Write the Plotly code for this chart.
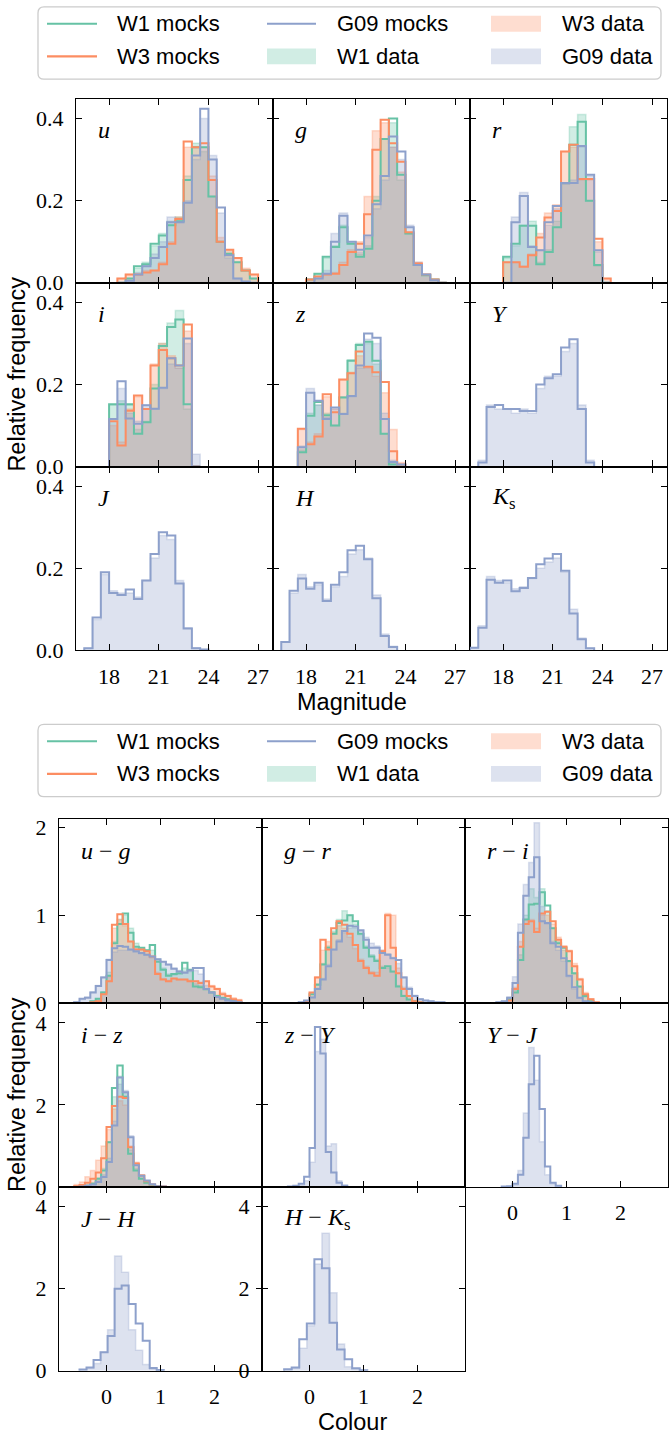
import plotly.graph_objects as go

FIG_W, FIG_H = 670, 1448

# ------------------------------------------------------------------
# Magnitude distributions (relative frequency, bin width 0.5 mag)
# ------------------------------------------------------------------
MAG_BIN = 0.5
MAG_TICKS = [18, 21, 24, 27]

u_start = 18.5
u_w1_mock = [0, 0.01, 0.04, 0.045, 0.095, 0.115, 0.14, 0.15, 0.25, 0.33, 0.33, 0.21, 0.10, 0.07, 0.05, 0.03, 0.01]
u_w3_mock = [0.01, 0.02, 0.02, 0.025, 0.03, 0.045, 0.095, 0.155, 0.344, 0.33, 0.34, 0.25, 0.10, 0.08, 0.06, 0.03, 0.02]
u_g09_mock = [0, 0.005, 0.02, 0.04, 0.06, 0.087, 0.147, 0.147, 0.195, 0.31, 0.424, 0.30, 0.183, 0.067, 0.01, 0.003, 0]
u_w1_data = [0, 0.01, 0.035, 0.05, 0.09, 0.12, 0.15, 0.16, 0.26, 0.34, 0.32, 0.21, 0.10, 0.075, 0.05, 0.03, 0.01]
u_w3_data = [0.01, 0.02, 0.02, 0.03, 0.03, 0.05, 0.10, 0.16, 0.33, 0.33, 0.33, 0.26, 0.11, 0.08, 0.06, 0.035, 0.02]
u_g09_data = [0, 0.005, 0.025, 0.045, 0.07, 0.10, 0.16, 0.15, 0.20, 0.30, 0.40, 0.31, 0.17, 0.06, 0.01, 0.003, 0]

g_start = 18.0
g_w1_mock = [0.008, 0.022, 0.063, 0.087, 0.135, 0.095, 0.063, 0.083, 0.20, 0.35, 0.40, 0.263, 0.12, 0.043, 0.018, 0.008, 0]
g_w3_mock = [0.008, 0.015, 0.02, 0.022, 0.043, 0.075, 0.095, 0.167, 0.324, 0.397, 0.34, 0.295, 0.123, 0.047, 0.02, 0.008, 0]
g_g09_mock = [0, 0.01, 0.022, 0.10, 0.163, 0.10, 0.08, 0.115, 0.191, 0.26, 0.356, 0.32, 0.135, 0.043, 0.02, 0.006, 0]
g_w1_data = [0.008, 0.02, 0.06, 0.09, 0.14, 0.10, 0.07, 0.09, 0.21, 0.35, 0.39, 0.25, 0.12, 0.045, 0.02, 0.008, 0]
g_w3_data = [0.008, 0.015, 0.02, 0.025, 0.05, 0.08, 0.10, 0.21, 0.37, 0.39, 0.33, 0.27, 0.12, 0.05, 0.02, 0.008, 0]
g_g09_data = [0, 0.01, 0.03, 0.12, 0.17, 0.095, 0.075, 0.11, 0.18, 0.25, 0.33, 0.30, 0.14, 0.05, 0.02, 0.006, 0]

r_start = 18.0
r_w1_mock = [0.063, 0.095, 0.139, 0.139, 0.045, 0.075, 0.135, 0.243, 0.336, 0.392, 0.20, 0.043, 0]
r_w3_mock = [0.05, 0.05, 0.039, 0.067, 0.11, 0.159, 0.175, 0.32, 0.336, 0.253, 0.253, 0.107, 0.01]
r_g09_mock = [0, 0.147, 0.211, 0.087, 0.079, 0.147, 0.187, 0.243, 0.243, 0.333, 0.263, 0.079, 0]
r_w1_data = [0.06, 0.09, 0.14, 0.15, 0.05, 0.08, 0.15, 0.24, 0.38, 0.41, 0.20, 0.04, 0]
r_w3_data = [0.05, 0.05, 0.04, 0.07, 0.12, 0.17, 0.19, 0.32, 0.33, 0.25, 0.25, 0.10, 0.01]
r_g09_data = [0, 0.16, 0.22, 0.09, 0.08, 0.14, 0.18, 0.24, 0.25, 0.33, 0.26, 0.075, 0]

i_start = 18.0
i_w1_mock = [0.152, 0.152, 0.152, 0.08, 0.108, 0.19, 0.294, 0.34, 0.358, 0.152, 0]
i_w3_mock = [0.11, 0.051, 0.136, 0.173, 0.14, 0.246, 0.284, 0.264, 0.246, 0.346, 0]
i_g09_mock = [0.116, 0.208, 0.117, 0.104, 0.149, 0.141, 0.192, 0.264, 0.246, 0.312, 0]
i_w1_data = [0.15, 0.16, 0.15, 0.09, 0.11, 0.20, 0.30, 0.35, 0.38, 0.14, 0]
i_w3_data = [0.10, 0.06, 0.14, 0.17, 0.14, 0.25, 0.30, 0.27, 0.24, 0.33, 0]
i_g09_data = [0.11, 0.19, 0.13, 0.11, 0.15, 0.14, 0.19, 0.25, 0.24, 0.30, 0.03]

z_start = 17.5
z_w1_mock = [0.035, 0.124, 0.157, 0.125, 0.10, 0.168, 0.258, 0.296, 0.304, 0.258, 0.08, 0.005, 0]
z_w3_mock = [0.092, 0.054, 0.073, 0.176, 0.132, 0.212, 0.227, 0.28, 0.243, 0.23, 0.206, 0.037, 0.005]
z_g09_mock = [0.047, 0.18, 0.16, 0.116, 0.144, 0.128, 0.172, 0.246, 0.324, 0.314, 0.116, 0.011, 0.005]
z_w1_data = [0.04, 0.13, 0.15, 0.13, 0.10, 0.17, 0.26, 0.30, 0.30, 0.25, 0.08, 0.01, 0]
z_w3_data = [0.09, 0.06, 0.08, 0.17, 0.14, 0.21, 0.23, 0.27, 0.24, 0.22, 0.18, 0.09, 0.01]
z_g09_data = [0.05, 0.19, 0.15, 0.12, 0.14, 0.13, 0.17, 0.24, 0.31, 0.30, 0.13, 0.015, 0.005]

Y_start = 16.5
Y_g09_mock = [0.01, 0.145, 0.15, 0.14, 0.14, 0.135, 0.135, 0.20, 0.215, 0.225, 0.29, 0.31, 0.14, 0.01]
Y_g09_data = [0.015, 0.15, 0.14, 0.14, 0.13, 0.14, 0.13, 0.19, 0.22, 0.22, 0.28, 0.30, 0.15, 0.015]

J_start = 16.5
J_g09_mock = [0.005, 0.08, 0.19, 0.14, 0.135, 0.148, 0.125, 0.17, 0.235, 0.288, 0.28, 0.163, 0.053, 0.005, 0.002]
J_g09_data = [0.005, 0.075, 0.185, 0.145, 0.14, 0.14, 0.13, 0.17, 0.225, 0.28, 0.27, 0.17, 0.055, 0.006, 0.002]

H_start = 16.5
H_g09_mock = [0.02, 0.145, 0.175, 0.15, 0.165, 0.12, 0.16, 0.19, 0.244, 0.255, 0.222, 0.127, 0.035, 0.008]
H_g09_data = [0.02, 0.14, 0.185, 0.155, 0.16, 0.125, 0.155, 0.18, 0.235, 0.245, 0.225, 0.135, 0.04, 0.01]

Ks_start = 16.0
Ks_g09_mock = [0.006, 0.055, 0.172, 0.165, 0.17, 0.144, 0.152, 0.176, 0.21, 0.224, 0.235, 0.194, 0.09, 0.027, 0.005]
Ks_g09_data = [0.006, 0.06, 0.18, 0.17, 0.165, 0.15, 0.155, 0.175, 0.20, 0.215, 0.225, 0.19, 0.10, 0.03, 0.005]

# ------------------------------------------------------------------
# Colour distributions (relative frequency)
# ------------------------------------------------------------------
COL_BIN = 0.1
COL_TICKS = [0, 1, 2]

ug_start = -0.6
ug_w1_mock = [0, 0, 0, 0.02, 0.05, 0.12, 0.31, 0.68, 0.90, 1.02, 0.80, 0.64, 0.63, 0.60, 0.66, 0.47, 0.38, 0.31, 0.33, 0.34, 0.46, 0.38, 0.19, 0.18, 0.157, 0.12, 0.08, 0.06, 0.045, 0.03, 0.01]
ug_w3_mock = [0, 0, 0, 0.01, 0.02, 0.10, 0.25, 0.89, 1.01, 0.90, 0.70, 0.61, 0.61, 0.59, 0.53, 0.33, 0.27, 0.25, 0.28, 0.27, 0.27, 0.25, 0.25, 0.23, 0.25, 0.19, 0.16, 0.10, 0.08, 0.045, 0.03]
ug_g09_mock = [0.01, 0.05, 0.06, 0.12, 0.195, 0.29, 0.49, 0.625, 0.65, 0.64, 0.61, 0.59, 0.57, 0.55, 0.53, 0.50, 0.47, 0.44, 0.39, 0.36, 0.345, 0.37, 0.40, 0.40, 0.16, 0.12, 0.07, 0.05, 0.03, 0.02, 0.01]
ug_w1_data = [0, 0, 0, 0.02, 0.05, 0.13, 0.35, 0.70, 0.95, 1.00, 0.85, 0.68, 0.62, 0.60, 0.60, 0.50, 0.40, 0.33, 0.32, 0.33, 0.40, 0.36, 0.22, 0.20, 0.16, 0.13, 0.09, 0.06, 0.04, 0.03, 0.01]
ug_w3_data = [0, 0, 0, 0.01, 0.03, 0.12, 0.30, 0.85, 0.95, 0.88, 0.70, 0.62, 0.60, 0.57, 0.52, 0.35, 0.28, 0.26, 0.28, 0.27, 0.27, 0.26, 0.25, 0.24, 0.25, 0.20, 0.17, 0.12, 0.09, 0.06, 0.04]
ug_g09_data = [0.01, 0.04, 0.07, 0.13, 0.20, 0.30, 0.50, 0.58, 0.60, 0.60, 0.60, 0.58, 0.56, 0.55, 0.52, 0.50, 0.47, 0.43, 0.40, 0.37, 0.36, 0.38, 0.37, 0.33, 0.20, 0.13, 0.08, 0.05, 0.03, 0.02, 0.01]

gr_start = -0.2
gr_w1_mock = [0, 0.02, 0.10, 0.21, 0.44, 0.63, 0.79, 0.91, 0.94, 1.00, 0.93, 0.79, 0.63, 0.53, 0.48, 0.40, 0.42, 0.36, 0.19, 0.08, 0.04, 0.02, 0.01, 0, 0, 0, 0]
gr_w3_mock = [0, 0.02, 0.12, 0.29, 0.72, 0.61, 0.85, 0.93, 0.89, 0.79, 0.66, 0.48, 0.40, 0.34, 0.31, 0.59, 1.00, 0.63, 0.34, 0.16, 0.08, 0.02, 0.01, 0, 0, 0, 0]
gr_g09_mock = [0.01, 0.03, 0.064, 0.16, 0.27, 0.42, 0.61, 0.70, 0.82, 0.88, 0.87, 0.83, 0.72, 0.63, 0.63, 0.57, 0.55, 0.51, 0.49, 0.29, 0.16, 0.08, 0.045, 0.03, 0.02, 0.01, 0.01]
gr_w1_data = [0, 0.02, 0.10, 0.22, 0.45, 0.65, 0.82, 0.95, 1.05, 1.00, 0.90, 0.78, 0.65, 0.55, 0.50, 0.42, 0.40, 0.35, 0.20, 0.09, 0.04, 0.02, 0.01, 0, 0, 0, 0]
gr_w3_data = [0, 0.02, 0.12, 0.30, 0.60, 0.70, 0.80, 0.88, 0.85, 0.75, 0.62, 0.50, 0.42, 0.36, 0.35, 0.60, 1.02, 1.00, 0.40, 0.18, 0.08, 0.03, 0.01, 0, 0, 0, 0]
gr_g09_data = [0.01, 0.03, 0.07, 0.17, 0.28, 0.44, 0.60, 0.72, 0.80, 0.85, 0.85, 0.82, 0.75, 0.68, 0.65, 0.60, 0.56, 0.52, 0.45, 0.30, 0.18, 0.09, 0.05, 0.03, 0.02, 0.01, 0.01]

ri_start = -0.3
ri_w1_mock = [0, 0.01, 0.04, 0.12, 0.49, 0.95, 1.12, 1.13, 1.26, 1.11, 0.85, 0.68, 0.63, 0.48, 0.34, 0.19, 0.08, 0.02, 0, 0]
ri_w3_mock = [0, 0.01, 0.03, 0.16, 0.64, 0.90, 0.93, 0.81, 1.02, 1.04, 0.93, 0.72, 0.64, 0.59, 0.42, 0.27, 0.10, 0.045, 0.01, 0]
ri_g09_mock = [0.01, 0.02, 0.06, 0.23, 0.80, 1.22, 1.43, 1.66, 0.93, 0.91, 0.68, 0.64, 0.51, 0.31, 0.18, 0.06, 0.02, 0.01, 0, 0]
ri_w1_data = [0, 0.01, 0.05, 0.15, 0.55, 1.00, 1.30, 1.20, 1.30, 1.05, 0.85, 0.70, 0.60, 0.47, 0.33, 0.18, 0.07, 0.02, 0, 0]
ri_w3_data = [0, 0.01, 0.04, 0.18, 0.70, 0.95, 0.95, 0.85, 1.00, 1.00, 0.90, 0.75, 0.65, 0.60, 0.45, 0.28, 0.12, 0.05, 0.01, 0]
ri_g09_data = [0.01, 0.02, 0.07, 0.30, 0.90, 1.35, 1.60, 2.05, 1.10, 0.90, 0.70, 0.60, 0.48, 0.30, 0.16, 0.06, 0.02, 0.01, 0, 0]

iz_start = -0.6
iz_w1_mock = [0, 0.01, 0.03, 0.08, 0.20, 0.40, 1.09, 2.41, 2.96, 2.20, 0.81, 0.40, 0.20, 0.10, 0.04, 0.01, 0]
iz_w3_mock = [0.02, 0.05, 0.10, 0.20, 0.35, 0.70, 1.46, 1.97, 2.20, 2.17, 0.97, 0.57, 0.28, 0.14, 0.06, 0.02, 0.01]
iz_g09_mock = [0, 0.01, 0.03, 0.06, 0.12, 0.24, 0.61, 1.50, 2.67, 2.31, 1.21, 0.53, 0.27, 0.16, 0.065, 0.02, 0.01]
iz_w1_data = [0, 0.02, 0.05, 0.10, 0.22, 0.45, 1.10, 2.20, 2.70, 2.30, 0.90, 0.45, 0.22, 0.10, 0.04, 0.01, 0]
iz_w3_data = [0.06, 0.12, 0.25, 0.40, 0.65, 1.00, 1.40, 1.90, 2.10, 2.00, 1.00, 0.60, 0.30, 0.15, 0.06, 0.02, 0.01]
iz_g09_data = [0, 0.01, 0.04, 0.08, 0.15, 0.30, 0.70, 1.60, 2.50, 2.35, 1.25, 0.55, 0.28, 0.15, 0.06, 0.02, 0.01]

zY_start = -0.4
zY_g09_mock = [0.01, 0.03, 0.08, 0.25, 0.95, 3.90, 3.25, 0.85, 0.35, 0.10, 0.03]
zY_g09_data = [0.01, 0.02, 0.05, 0.15, 0.60, 3.30, 3.60, 1.00, 1.05, 0.15, 0.05]

YJ_start = -0.2
YJ_g09_mock = [0.01, 0.02, 0.08, 0.30, 1.20, 2.50, 3.20, 1.90, 0.50, 0.10, 0.03]
YJ_g09_data = [0.005, 0.01, 0.05, 0.40, 1.80, 3.40, 2.60, 1.10, 0.30, 0.08, 0.02]

JH_start, JH_bin = -0.5, 0.13
JH_g09_mock = [0.03, 0.08, 0.26, 0.45, 0.85, 2.00, 2.08, 1.63, 1.15, 0.73, 0.07, 0.02]
JH_g09_data = [0.02, 0.06, 0.18, 0.45, 1.00, 2.80, 2.40, 1.00, 0.50, 0.15, 0.04, 0.01]

HK_start, HK_bin = -0.47, 0.14
HK_g09_mock = [0.04, 0.08, 0.77, 1.15, 2.72, 2.50, 1.17, 0.52, 0.28, 0.06, 0.01]
HK_g09_data = [0.02, 0.06, 0.55, 1.10, 2.60, 3.35, 1.90, 0.65, 0.10, 0.03, 0.01]

# ------------------------------------------------------------------
# Styling
# ------------------------------------------------------------------
W1_RGB = (102, 194, 165)
W3_RGB = (252, 141, 98)
G09_RGB = (141, 160, 203)
FILL_ALPHA = 0.3
SERIF = "Liberation Serif"
SANS = "Liberation Sans"


def rgba(rgb, a=1.0):
    return f"rgba({rgb[0]},{rgb[1]},{rgb[2]},{a})"


def px_x(p):
    return p / FIG_W


def px_y(p):
    return 1 - p / FIG_H


def step_path(start, width, vals):
    edges = [start + width * k for k in range(len(vals) + 1)]
    xs = [edges[0]] + edges[:-1] + [edges[-1]]
    ys = [0.0] + list(vals) + [0.0]
    return xs, ys


fig = go.Figure()
axes_layout = {}
annotations = []
shapes = []

axis_common = dict(
    showline=True, linecolor="black", linewidth=1.1, mirror="allticks",
    ticks="inside", ticklen=6, tickwidth=1.1, tickcolor="black",
    showgrid=False, zeroline=False, fixedrange=True, layer="above traces",
    tickfont=dict(family=SERIF, size=22, color="black"),
)


def add_panel(n, box, xrange_, yrange_, xticks, show_xlabels, yticks, yticktext,
              show_ylabels, label, start, width, series):
    left, right, top, bottom = box
    xkey = "xaxis" if n == 1 else f"xaxis{n}"
    ykey = "yaxis" if n == 1 else f"yaxis{n}"
    xref = "x" if n == 1 else f"x{n}"
    yref = "y" if n == 1 else f"y{n}"
    axes_layout[xkey] = dict(
        axis_common, domain=[px_x(left), px_x(right)], range=xrange_, anchor=yref,
        tickmode="array", tickvals=xticks, ticktext=[str(t) for t in xticks],
        showticklabels=show_xlabels, ticklabelstandoff=6,
    )
    axes_layout[ykey] = dict(
        axis_common, domain=[px_y(bottom), px_y(top)], range=yrange_, anchor=xref,
        tickmode="array", tickvals=yticks, ticktext=yticktext,
        showticklabels=show_ylabels, ticklabelstandoff=7,
    )
    # data first (filled steps), then mock outlines on top
    for kind, rgb, vals in series:
        if vals is None or kind != "data":
            continue
        xs, ys = step_path(start, width, vals)
        fig.add_trace(go.Scatter(
            x=xs, y=ys, xaxis=xref, yaxis=yref, mode="lines",
            line=dict(shape="hv", color=rgba(rgb, FILL_ALPHA), width=1.5),
            fill="tozeroy", fillcolor=rgba(rgb, FILL_ALPHA),
            hoverinfo="skip", showlegend=False,
        ))
    for kind, rgb, vals in series:
        if vals is None or kind != "mock":
            continue
        xs, ys = step_path(start, width, vals)
        fig.add_trace(go.Scatter(
            x=xs, y=ys, xaxis=xref, yaxis=yref, mode="lines",
            line=dict(shape="hv", color=rgba(rgb), width=2),
            hoverinfo="skip", showlegend=False,
        ))
    annotations.append(dict(
        x=px_x(left + 20), y=px_y(top + 32), xref="paper", yref="paper",
        xanchor="left", yanchor="middle", showarrow=False, text=label,
        font=dict(family=SERIF, size=24, color="black"),
    ))


def series6(w1m, w3m, g9m, w1d, w3d, g9d):
    return [("data", W1_RGB, w1d), ("data", W3_RGB, w3d), ("data", G09_RGB, g9d),
            ("mock", W1_RGB, w1m), ("mock", W3_RGB, w3m), ("mock", G09_RGB, g9m)]


# ---------------- magnitude grid ----------------
mag_cols = [(76, 273), (273, 470), (470, 667)]
mag_rows = [(96, 282), (282, 468), (468, 654)]
mag_xrange = [16.0, 27.9]
mag_yrange = [0, 0.448]
mag_panels = [
    ("<i>u</i>", u_start, series6(u_w1_mock, u_w3_mock, u_g09_mock, u_w1_data, u_w3_data, u_g09_data)),
    ("<i>g</i>", g_start, series6(g_w1_mock, g_w3_mock, g_g09_mock, g_w1_data, g_w3_data, g_g09_data)),
    ("<i>r</i>", r_start, series6(r_w1_mock, r_w3_mock, r_g09_mock, r_w1_data, r_w3_data, r_g09_data)),
    ("<i>i</i>", i_start, series6(i_w1_mock, i_w3_mock, i_g09_mock, i_w1_data, i_w3_data, i_g09_data)),
    ("<i>z</i>", z_start, series6(z_w1_mock, z_w3_mock, z_g09_mock, z_w1_data, z_w3_data, z_g09_data)),
    ("<i>Y</i>", Y_start, series6(None, None, Y_g09_mock, None, None, Y_g09_data)),
    ("<i>J</i>", J_start, series6(None, None, J_g09_mock, None, None, J_g09_data)),
    ("<i>H</i>", H_start, series6(None, None, H_g09_mock, None, None, H_g09_data)),
    ("<i>K</i><sub>s</sub>", Ks_start, series6(None, None, Ks_g09_mock, None, None, Ks_g09_data)),
]

n = 0
for k, (label, start, series) in enumerate(mag_panels):
    row, col = divmod(k, 3)
    n += 1
    left, right = mag_cols[col]
    top, bottom = mag_rows[row]
    add_panel(n, (left, right, top, bottom), mag_xrange, mag_yrange,
              MAG_TICKS, row == 2, [0, 0.2, 0.4], ["0.0", "0.2", "0.4"], col == 0,
              label, start, MAG_BIN, series)

# ---------------- colour grid ----------------
col_cols = [(59, 262), (262, 465), (465, 668)]
col_rows = [(825, 1011), (1011, 1197), (1197, 1383)]
col_xrange = [-0.88, 2.88]
col_panels = [
    ("<i>u</i> − <i>g</i>", ug_start, COL_BIN, series6(ug_w1_mock, ug_w3_mock, ug_g09_mock, ug_w1_data, ug_w3_data, ug_g09_data)),
    ("<i>g</i> − <i>r</i>", gr_start, COL_BIN, series6(gr_w1_mock, gr_w3_mock, gr_g09_mock, gr_w1_data, gr_w3_data, gr_g09_data)),
    ("<i>r</i> − <i>i</i>", ri_start, COL_BIN, series6(ri_w1_mock, ri_w3_mock, ri_g09_mock, ri_w1_data, ri_w3_data, ri_g09_data)),
    ("<i>i</i> − <i>z</i>", iz_start, COL_BIN, series6(iz_w1_mock, iz_w3_mock, iz_g09_mock, iz_w1_data, iz_w3_data, iz_g09_data)),
    ("<i>z</i> − <i>Y</i>", zY_start, COL_BIN, series6(None, None, zY_g09_mock, None, None, zY_g09_data)),
    ("<i>Y</i> − <i>J</i>", YJ_start, COL_BIN, series6(None, None, YJ_g09_mock, None, None, YJ_g09_data)),
    ("<i>J</i> − <i>H</i>", JH_start, JH_bin, series6(None, None, JH_g09_mock, None, None, JH_g09_data)),
    ("<i>H</i> − <i>K</i><sub>s</sub>", HK_start, HK_bin, series6(None, None, HK_g09_mock, None, None, HK_g09_data)),
]
for k, (label, start, width, series) in enumerate(col_panels):
    row, col = divmod(k, 3)
    n += 1
    left, right = col_cols[col]
    top, bottom = col_rows[row]
    if row == 0:
        yr, yt = [0, 2.09], [0, 1, 2]
    else:
        yr, yt = [0, 4.48], [0, 2, 4]
    show_x = row == 2 or (row == 1 and col == 2)
    show_y = col == 0 or row == 2
    add_panel(n, (left, right, top, bottom), col_xrange, yr,
              COL_TICKS, show_x, yt, [str(t) for t in yt], show_y,
              label, start, width, series)


# ---------------- legends ----------------
def draw_legend(top):
    x0, x1, y0, y1 = 38, 661, top, top + 73
    r = 6
    X = px_x
    Y = px_y
    path = (
        f"M {X(x0 + r)},{Y(y0)} L {X(x1 - r)},{Y(y0)} Q {X(x1)},{Y(y0)} {X(x1)},{Y(y0 + r)} "
        f"L {X(x1)},{Y(y1 - r)} Q {X(x1)},{Y(y1)} {X(x1 - r)},{Y(y1)} "
        f"L {X(x0 + r)},{Y(y1)} Q {X(x0)},{Y(y1)} {X(x0)},{Y(y1 - r)} "
        f"L {X(x0)},{Y(y0 + r)} Q {X(x0)},{Y(y0)} {X(x0 + r)},{Y(y0)} Z"
    )
    shapes.append(dict(type="path", xref="paper", yref="paper", path=path,
                       line=dict(color="#cccccc", width=1.3),
                       fillcolor="rgba(255,255,255,0.85)", layer="above"))
    row_y = [top + 17, top + 50]
    glyph_x = [(47, 97), (267, 316), (491, 541)]
    text_x = [115, 335, 560]
    entries = [
        (0, 0, "mock", W1_RGB, "W1 mocks"),
        (0, 1, "mock", W3_RGB, "W3 mocks"),
        (1, 0, "mock", G09_RGB, "G09 mocks"),
        (1, 1, "data", W1_RGB, "W1 data"),
        (2, 0, "data", W3_RGB, "W3 data"),
        (2, 1, "data", G09_RGB, "G09 data"),
    ]
    for c, rr, kind, rgb, text in entries:
        gx0, gx1 = glyph_x[c]
        yy = row_y[rr]
        if kind == "mock":
            shapes.append(dict(type="line", xref="paper", yref="paper",
                               x0=X(gx0), x1=X(gx1), y0=Y(yy), y1=Y(yy),
                               line=dict(color=rgba(rgb), width=2.2), layer="above"))
        else:
            shapes.append(dict(type="rect", xref="paper", yref="paper",
                               x0=X(gx0), x1=X(gx1), y0=Y(yy + 8), y1=Y(yy - 8),
                               fillcolor=rgba(rgb, FILL_ALPHA), line=dict(width=0),
                               layer="above"))
        annotations.append(dict(x=X(text_x[c]), y=Y(yy), xref="paper", yref="paper",
                                xanchor="left", yanchor="middle", showarrow=False,
                                text=text, font=dict(family=SANS, size=22, color="black")))


draw_legend(3)
draw_legend(729)

# ---------------- axis titles ----------------
for text, x, y, angle in [
    ("Magnitude", 352, 706, 0),
    ("Colour", 352, 1435, 0),
    ("Relative frequency", 17, 375, -90),
    ("Relative frequency", 17, 1104, -90),
]:
    annotations.append(dict(x=px_x(x), y=px_y(y), xref="paper", yref="paper",
                            xanchor="center", yanchor="middle", showarrow=False,
                            text=text, textangle=angle,
                            font=dict(family=SANS, size=23.5, color="black")))

fig.update_layout(
    width=FIG_W, height=FIG_H,
    margin=dict(l=0, r=0, t=0, b=0),
    paper_bgcolor="white", plot_bgcolor="white",
    showlegend=False,
    annotations=annotations,
    shapes=shapes,
    **axes_layout,
)

fig.write_html("out.html")
